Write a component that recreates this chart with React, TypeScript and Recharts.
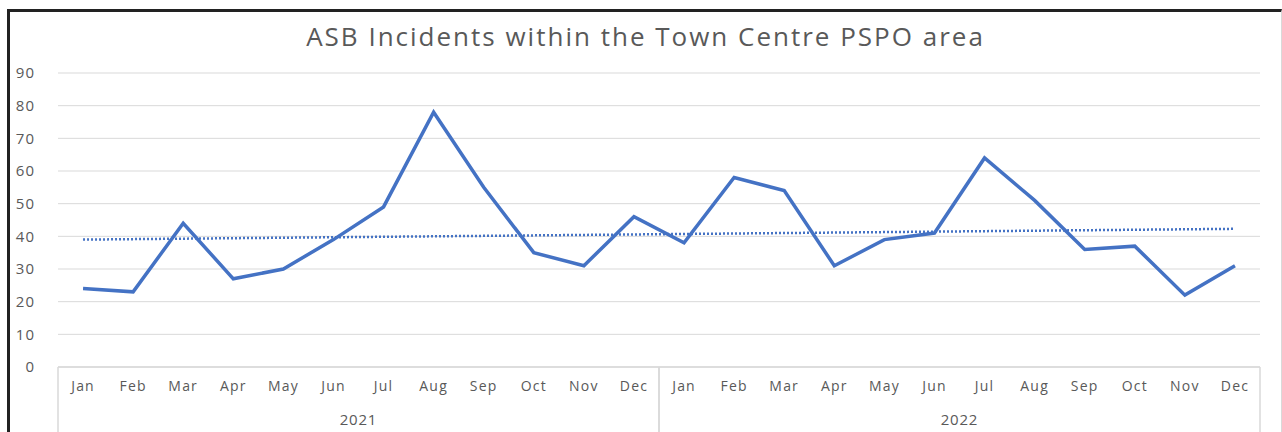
import React from 'react'
import { LineChart, Line, XAxis, YAxis, CartesianGrid, ReferenceLine } from 'recharts'

const months = ['Jan', 'Feb', 'Mar', 'Apr', 'May', 'Jun', 'Jul', 'Aug', 'Sep', 'Oct', 'Nov', 'Dec']
const years = ['2021', '2022']
const incidents2021 = [24, 23, 44, 27, 30, 39, 49, 78, 55, 35, 31, 46]
const incidents2022 = [38, 58, 54, 31, 39, 41, 64, 51, 36, 37, 22, 31]
const yTicks = [0, 10, 20, 30, 40, 50, 60, 70, 80, 90]
// linear trendline (start / end)
const trendStart = 39
const trendEnd = 42.3

const title = 'ASB Incidents within the Town Centre PSPO area'

const data = years.flatMap((year, yi) =>
  months.map((month, mi) => ({
    key: `${month} ${year}`,
    month,
    year,
    value: (yi === 0 ? incidents2021 : incidents2022)[mi],
  }))
)

const CHART_W = 1271
const CHART_H = 440
const Y_AXIS_W = 48
const MARGIN = { top: 61, right: 21, left: 0, bottom: 10 }
const PLOT_W = CHART_W - Y_AXIS_W - MARGIN.left - MARGIN.right
const MONTH_AXIS_H = 35
const YEAR_TICK_MARGIN = 12
const GRID = '#d9d9d9'
const TEXT = '#595959'
const BLUE = '#4472C4'
const FONT = '"Open Sans", sans-serif'

const YearTick = (props: any) => {
  const { x, y, payload } = props
  const half = PLOT_W / 4
  const top = y - YEAR_TICK_MARGIN - MONTH_AXIS_H
  return (
    <g>
      <line x1={x - half} x2={x - half} y1={top} y2={y + 60} stroke={GRID} strokeWidth={1.5} />
      <line x1={x + half} x2={x + half} y1={top} y2={y + 60} stroke={GRID} strokeWidth={1.5} />
      <text x={x} y={y} dy="0.71em" textAnchor="middle" fill={TEXT} fontSize={15} fontFamily={FONT} letterSpacing={0.8}>
        {payload.value}
      </text>
    </g>
  )
}

export default function App() {
  return (
    <div
      style={{
        position: 'fixed',
        left: 7,
        top: 9,
        width: CHART_W,
        height: 423,
        overflow: 'hidden',
        background: '#fff',
        borderLeft: '3px solid #222',
        borderTop: '3px solid #222',
        borderRight: '1px solid #d9d9d9',
      }}
    >
      <div
        style={{
          position: 'absolute',
          left: 0,
          right: 0,
          top: 6,
          textAlign: 'center',
          fontFamily: FONT,
          fontSize: 26,
          letterSpacing: 2,
          color: TEXT,
        }}
      >
        {title}
      </div>
      <LineChart width={CHART_W} height={CHART_H} data={data} margin={MARGIN}>
        <CartesianGrid horizontal vertical={false} stroke={GRID} />
        <XAxis
          dataKey="key"
          scale="band"
          interval={0}
          height={MONTH_AXIS_H}
          tickFormatter={(v: string) => v.split(' ')[0]}
          axisLine={{ stroke: GRID, strokeWidth: 1.5 }}
          tickLine={false}
          tickSize={0}
          tickMargin={14}
          tick={{ fill: TEXT, fontSize: 14, fontFamily: FONT, letterSpacing: 1.2 }}
        />
        <XAxis
          xAxisId="year"
          dataKey="year"
          scale="band"
          allowDuplicatedCategory={false}
          ticks={years}
          interval={0}
          height={40}
          axisLine={false}
          tickLine={false}
          tickSize={0}
          tickMargin={YEAR_TICK_MARGIN}
          tick={<YearTick />}
        />
        <YAxis
          width={Y_AXIS_W}
          domain={[0, 90]}
          ticks={yTicks}
          interval={0}
          axisLine={false}
          tickLine={false}
          tickSize={0}
          tickMargin={23}
          tick={{ fill: TEXT, fontSize: 15, fontFamily: FONT, letterSpacing: 1 }}
        />
        <ReferenceLine
          segment={[
            { x: data[0].key, y: trendStart },
            { x: data[data.length - 1].key, y: trendEnd },
          ]}
          stroke={BLUE}
          strokeWidth={2.5}
          strokeDasharray="2 2"
          ifOverflow="visible"
        />
        <Line
          type="linear"
          dataKey="value"
          stroke={BLUE}
          strokeWidth={3.5}
          dot={false}
          activeDot={false}
          isAnimationActive={false}
        />
      </LineChart>
    </div>
  )
}
